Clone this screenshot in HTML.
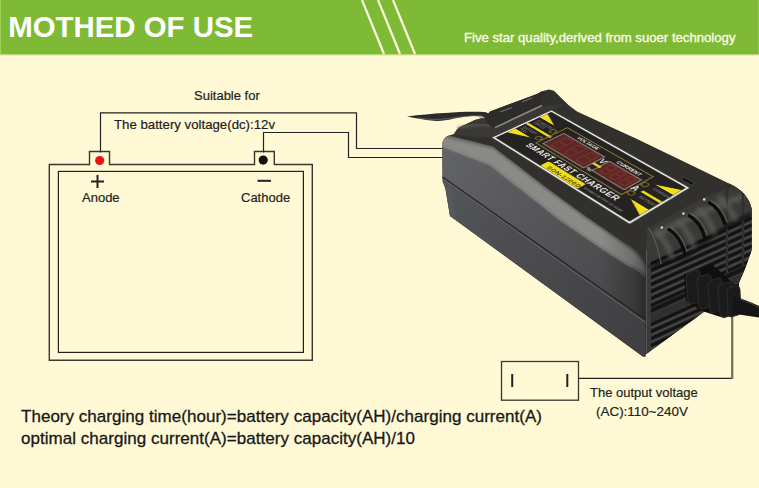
<!DOCTYPE html>
<html><head><meta charset="utf-8">
<style>
html,body{margin:0;padding:0;width:759px;height:488px;overflow:hidden;background:#fffad5;}
svg{position:absolute;left:0;top:0;display:block;}
text{font-family:"Liberation Sans",sans-serif;}
</style></head>
<body>
<svg width="759" height="488" viewBox="0 0 759 488">
<defs>
  <linearGradient id="gDark" gradientUnits="userSpaceOnUse" x1="600" y1="0" x2="648" y2="0">
    <stop offset="0" stop-color="#000" stop-opacity="0"/>
    <stop offset="0.7" stop-color="#000" stop-opacity="0.2"/>
    <stop offset="1" stop-color="#000" stop-opacity="0.45"/>
  </linearGradient>
  <filter id="blur1" x="-10%" y="-10%" width="120%" height="120%"><feGaussianBlur stdDeviation="1.4"/></filter>
  <filter id="blur2" x="-10%" y="-10%" width="120%" height="120%"><feGaussianBlur stdDeviation="2.2"/></filter>
  <linearGradient id="gUpper" gradientUnits="userSpaceOnUse" x1="450" y1="160" x2="640" y2="280">
    <stop offset="0" stop-color="#616265"/>
    <stop offset="1" stop-color="#48484a"/>
  </linearGradient>
  <linearGradient id="gBand" gradientUnits="userSpaceOnUse" x1="540" y1="186" x2="531.3" y2="199.3">
    <stop offset="0" stop-color="#4a4a48"/>
    <stop offset="0.35" stop-color="#868684"/>
    <stop offset="0.8" stop-color="#8a8a87"/>
    <stop offset="1" stop-color="#7a7a77"/>
  </linearGradient>
  <linearGradient id="gLower" gradientUnits="userSpaceOnUse" x1="450" y1="200" x2="645" y2="330">
    <stop offset="0" stop-color="#525458"/>
    <stop offset="1" stop-color="#403f41"/>
  </linearGradient>
</defs>
<!-- background -->
<rect x="0" y="0" width="759" height="488" fill="#fffad5"/>
<!-- header -->
<rect x="0" y="0" width="759" height="54" fill="#7fba36"/>
<rect x="0" y="54" width="759" height="1.3" fill="#b9d777"/>
<rect x="0" y="0" width="1" height="54" fill="#9fd05a"/>
<rect x="758" y="0" width="1" height="54" fill="#97c952"/>
<g stroke="#fbfbe0" stroke-width="2.2">
  <line x1="362" y1="0" x2="384" y2="54"/>
  <line x1="378" y1="0" x2="400" y2="54"/>
  <line x1="393" y1="0" x2="415" y2="54"/>
</g>
<text x="8.2" y="37.4" font-size="29.4" font-weight="bold" fill="#ffffff">MOTHED OF USE</text>
<text x="464" y="42.3" font-size="13.15" fill="#fafae6" stroke="#fafae6" stroke-width="0.35">Five star quality,derived from suoer technology</text>

<!-- battery -->
<g fill="none" stroke="#222" stroke-width="1.2">
  <path d="M49.3,360.3 V164.5 H89.5 V151.5 H109.5 V164.5 H254.5 V151.5 H274.3 V164.5 H312.3 V360.3 Z" stroke="#3a362e" stroke-width="1.4"/>
  <rect x="58.4" y="171.4" width="245" height="181"/>
  <path d="M100.5,152.5 V112.9 H356.5 V148.5 H445"/>
  <path d="M263.5,152.5 V132.5 H348.5 V157.5 H445"/>
  <path d="M578.5,378.3 H733"/>
  <path d="M732.2,379 V315" stroke="#6f6d50" stroke-width="2.2"/>
  <rect x="501.5" y="361.5" width="77" height="38.7" stroke="#3a362e" stroke-width="1.3"/>
</g>
<g stroke="#222" stroke-width="2">
  <line x1="512.2" y1="374" x2="512.2" y2="387"/>
  <line x1="567.3" y1="374" x2="567.3" y2="387"/>
  <line x1="91" y1="181.5" x2="104" y2="181.5"/>
  <line x1="97.5" y1="175" x2="97.5" y2="188"/>
  <line x1="257.5" y1="180.8" x2="271" y2="180.8"/>
</g>
<circle cx="99.7" cy="160.5" r="4.6" fill="#ee1111"/>
<circle cx="263.2" cy="160.1" r="4.6" fill="#111"/>
<g font-size="13" fill="#1e1e1e" stroke="#1e1e1e" stroke-width="0.2">
  <text x="194" y="100.1">Suitable for</text>
  <text x="114" y="129.3" textLength="161" lengthAdjust="spacingAndGlyphs">The battery voltage(dc):12v</text>
  <text x="82" y="202">Anode</text>
  <text x="241" y="202">Cathode</text>
  <text x="590" y="397">The output voltage</text>
  <text x="596" y="415.5" textLength="92" lengthAdjust="spacingAndGlyphs">(AC):110~240V</text>
</g>
<g font-size="17" fill="#181818" stroke="#181818" stroke-width="0.3">
  <text x="21" y="421.8" textLength="521" lengthAdjust="spacing">Theory charging time(hour)=battery capacity(AH)/charging current(A)</text>
  <text x="21" y="444" textLength="394" lengthAdjust="spacing">optimal charging current(A)=battery capacity(AH)/10</text>
</g>

<!-- charger -->
<g id="charger">
  <!-- cable left -->
  <path d="M407,116.4 C420,115 432,113.6 445,113 C460,112 475,111.3 486,112.3 Q490,114 491.5,119.5 C485,116.8 478,115.8 470,116.2 C458,117 448,120.8 437,120.9 C425,120.3 415,117.8 407,116.4 Z" fill="#2a2a28"/>
  <path d="M418,117.8 C428,119.6 438,120 448,118.6 C460,116.8 470,115.6 482,115.8" stroke="#8a8a84" stroke-width="0.8" fill="none" opacity="0.7"/>
  <!-- silhouette / top face -->
  <path d="M442.3,150 L442.3,144 Q443,137.5 449,135.5 L454,134 Q456,130 459,127.5 L475,120 L486,117 L490,111.6 L537,94 L542,91.3 L549,89.5 L554,90.7 L561,97.8 L569,105.5 L577,111.5 L637,139 L695,167 L729,183.5 Q748,192 751.7,209 L751.7,250 L746,266 L739,283 L738.5,294.6 L732.4,313 L724,316 L716,313 L707.8,308.9 L642.8,356.4 L450,216 L445.5,189 L442.5,181 Z" fill="#31302d"/>
  <!-- hump under bar -->
  <path d="M454,134 Q456,130 459,127.5 L475,120 L486,117 L496,128 L542,106 L565,104 L494,137.6 L470,137 Z" fill="#3a3836"/>
  <path d="M457,128.5 Q472,123.5 492,125" stroke="#66665f" stroke-width="1.6" fill="none" filter="url(#blur1)"/>
  <path d="M479,117.2 Q486,117.4 490,120" stroke="#b8b8ae" stroke-width="1.2" fill="none"/>
  <!-- bar -->
  <path d="M484,118 L490,111.6 L537,94 L542,91.3 L543,105 L495,128 Q488,126 484,118 Z" fill="#2e2c2a"/>
  <path d="M495,127.6 L542,105.5" stroke="#8c8c88" stroke-width="1.6"/>
  <path d="M500,112 L512,107.5 M522,102 L532,98" stroke="#6a6a66" stroke-width="1.2"/>
  <path d="M683,177 L694,182.5 L692.5,185.5 L681.5,180 Z" fill="#121212" stroke="#555" stroke-width="0.6"/>
  <!-- upper front face -->
  <path d="M442.3,144 Q443,137.5 449,135.5 L493,146.6 L545,186.5 L585,215.7 L625,243 Q642,252 646,266 L645.5,320 L442.5,177 Z" fill="url(#gUpper)"/>
  <!-- rounded edge highlight band -->
  <clipPath id="upclip"><path d="M442.3,144 Q443,137.5 449,135.5 L493,146.6 L545,186.5 L585,215.7 L625,243 Q642,252 646,266 L645.5,320 L442.5,177 Z"/></clipPath>
  <g clip-path="url(#upclip)">
  <path d="M440,136 L493,148.5 L545,188.5 L585,217.5 L625,245 Q641,254 646,268 L646,276 Q638,268 628,265 L604,249.5 L560,219.5 L490,164.5 L440,145.5 Z" fill="#8a8a87" filter="url(#blur1)"/>
  </g>
  <path d="M443,146 L490,164.5 L560,219.5 L604,249.5 L628,265 Q640,270 645,277" stroke="#9a9a96" stroke-width="0.9" fill="none" opacity="0.6"/>
  <!-- lower front face -->
  <path d="M442.5,177 L645.5,320 L645.5,356.4 L642.8,356.4 L450,216 L445.5,189 L442.5,177 Z" fill="url(#gLower)"/>
  <path d="M442.5,178.5 L445.5,189 L450,216 L456,220 L451,188 Z" fill="#5a5c62" opacity="0.6"/>
  <path d="M442.5,177 L645.5,320" stroke="#28282a" stroke-width="1.5"/>
  <path d="M444,179.5 L645.5,322.5" stroke="#66666a" stroke-width="1"/>
  <!-- darkening toward right end of front face -->
  <path d="M442.3,144 Q443,137.5 449,135.5 L493,146.6 L545,186.5 L585,215.7 L625,243 Q642,252 646,266 L645.5,320 L442.5,177 Z" fill="url(#gDark)"/>
  <!-- end face -->
  <path d="M646,229 L729,183.5 Q748,192 751.7,209 L751.7,250 L746,266 L739,283 L738.5,294.6 L732.4,313 L724,316 L716,313 L707.8,308.9 L642.8,356.4 L645.5,356.4 Z" fill="#302f2d"/>
  <clipPath id="endclip"><path d="M646,229 L729,183.5 Q748,192 751.7,209 L751.7,250 L746,266 L739,283 L738.5,294.6 L732.4,313 L724,316 L716,313 L707.8,308.9 L642.8,356.4 L645.5,356.4 Z"/></clipPath>
  <g clip-path="url(#endclip)">
    <!-- rib sheen -->
    <path d="M646,226 Q700,196 735,186 Q746,192 752,206 L752,214 L650,262 Z" fill="#3a3937"/>
    <path d="M655,236 Q700,210 745,196" stroke="#565552" stroke-width="6" fill="none" filter="url(#blur2)"/>
    <!-- vents -->
    <g stroke="#121212" stroke-width="2.8">
      <path d="M650,264 L752,218 M650,271 L752,225 M650,278 L752,232 M650,285 L752,239 M650,292 L752,246 M650,299 L752,253 M650,306 L752,260"/>
      <path d="M650,325 L752,279 M650,332 L752,286 M650,339 L752,293 M650,346 L752,300 M650,353 L752,307 M650,360 L752,314"/>
    </g>
    <g stroke="#4e4e4c" stroke-width="1.2">
      <path d="M650,267.5 L752,221.5 M650,274.5 L752,228.5 M650,281.5 L752,235.5 M650,288.5 L752,242.5 M650,295.5 L752,249.5 M650,302.5 L752,256.5"/>
      <path d="M650,328.5 L752,282.5 M650,335.5 L752,289.5 M650,342.5 L752,296.5 M650,349.5 L752,303.5 M650,356.5 L752,310.5"/>
    </g>
    <path d="M727,180 L727,320 M743,175 L743,310" stroke="#302f2d" stroke-width="2.5"/>
    <!-- end face seam -->
    <path d="M646,313 L752,265" stroke="#151515" stroke-width="4"/>
    <path d="M646,316.5 L752,268.5" stroke="#3c3c3b" stroke-width="1"/>
    <!-- corner rounding highlight -->
    <path d="M648.5,240 L648.5,356" stroke="#3a3a39" stroke-width="5"/>
    <path d="M646.5,250 L646.5,356" stroke="#56565a" stroke-width="1"/>
    <!-- rib bottoms shadow -->
    <path d="M650,266 Q668,262 686,256 Q696,250 706,241 Q716,233 727,227 Q738,220 752,214" stroke="#101010" stroke-width="3" fill="none" filter="url(#blur1)"/>
    <!-- rib highlights -->
    <g stroke="#5c5b57" stroke-width="5" fill="none" filter="url(#blur2)" opacity="0.9">
      <path d="M656,230 Q666,240 672,258"/>
      <path d="M678,221 Q688,230 694,247"/>
      <path d="M698,208 Q708,218 715,234"/>
      <path d="M718,196 Q728,205 736,220"/>
    </g>
    <!-- grooves -->
    <g stroke="#0c0c0c" stroke-width="3.2" fill="none">
      <path d="M667.7,228.9 Q680,235 684.8,254"/>
      <path d="M688,215 Q700,221 705,238"/>
      <path d="M708.3,202.1 Q720,208 725.2,225"/>
    </g>
    <g stroke="#62625e" stroke-width="1.2" fill="none" opacity="0.85">
      <path d="M647.5,226 Q657,240 661,264"/>
      <path d="M670,227 Q681,233 687,251"/>
      <path d="M690.5,213.5 Q702,219 707.5,235"/>
      <path d="M710.5,200.5 Q722,206 727.5,222"/>
    </g>
  </g>
  <g fill="#d0d0c8">
    <circle cx="661.8" cy="227.6" r="1.3"/><circle cx="683.4" cy="213.6" r="1.3"/><circle cx="704.2" cy="199.4" r="1.3"/>
  </g>
  <!-- strain relief -->
  <path d="M684,274 L712,264 L737,287 L741,313 L724,318 L702,311 L686,301 Z" fill="#0f0f0f"/>
  <g fill="#1b1b1b" stroke="#2e2e2d" stroke-width="0.9">
    <path d="M686,277 Q686,273 690,272 L697,270 Q700,270 700,274 L701,298 Q701,301 698,302 L691,304 Q688,304 688,301 Z"/>
    <path d="M697,281 Q697,277 701,276 L708,274 Q711,274 711,278 L712,303 Q712,306 709,307 L702,309 Q699,309 699,306 Z"/>
    <path d="M708,285 Q708,281 712,280 L719,278 Q722,278 722,282 L723,307 Q723,310 720,311 L713,313 Q710,313 710,310 Z"/>
    <path d="M718,289 Q718,285 722,284 L729,282 Q732,282 732,286 L733,311 Q733,314 730,315 L723,317 Q720,317 720,314 Z"/>
    <path d="M727,292 Q727,288 731,287 L737,286 Q740,286 740,290 L741,311 Q741,314 738,315 L731,317 Q728,317 728,314 Z"/>
  </g>
  <!-- cable right -->
  <path d="M734,296.5 C742,298.5 750,302 759,306 L759,317.5 C750,316 741,314.5 732.5,314 Z" fill="#151515"/>
  <path d="M740,299.5 C746,301.5 752,304 759,307.5" stroke="#3e3e3c" stroke-width="1" fill="none"/>
</g>
</svg>
<div id="panel" style="position:absolute;left:0;top:0;width:200px;height:80px;transform-origin:0 0;transform:matrix3d(0.26355989,0.26948713,0,-0.00060709731,-1.0219129,0.24712036,0,-0.00061140729,0,0,1,0,551.4,111.1,0,1);">
<svg width="200" height="80" viewBox="0 0 200 80" style="position:absolute;left:0;top:0;overflow:visible">
  <rect x="0" y="0" width="200" height="80" fill="#242321" stroke="#e6e6de" stroke-width="2.4"/>
  <!-- left indicators -->
  <path d="M1.5,7 L1.5,18 L25,18 Z" fill="#f2df1c"/>
  <path d="M1.5,52 L1.5,63 L26,52 Z" fill="#f2df1c"/>
  <rect x="1.5" y="34.5" width="39" height="3.4" fill="#f2df1c"/>
  <circle cx="33" cy="26.5" r="3.4" fill="#26221a" stroke="#8a7a3a" stroke-width="1.1"/>
  <circle cx="33" cy="46.3" r="3.4" fill="#26221a" stroke="#8a7a3a" stroke-width="1.1"/>
  <text x="5" y="26" font-size="4.5" fill="#8a8a86">CHARGING</text>
  <text x="5" y="31" font-size="4.5" fill="#8a8a86">STATUS</text>
  <text x="5" y="45" font-size="4.5" fill="#8a8a86">BATTERY</text>
  <text x="5" y="50" font-size="4.5" fill="#8a8a86">FULL</text>
  <!-- frame -->
  <rect x="38" y="10.5" width="126" height="44" fill="none" stroke="#9a8232" stroke-width="1.3"/>
  <rect x="44" y="21" width="62" height="29" fill="#5c2826" stroke="#b09690" stroke-width="1.2"/>
  <rect x="115" y="23" width="45" height="24" fill="#5c2826" stroke="#b09690" stroke-width="1.2"/>
  <path d="M52,24.5 h11 M52,35.0 h11 M52,45.5 h11 M52,24.5 v21 M63,24.5 v21" stroke="#74302c" stroke-width="1.8" fill="none"/><path d="M71,24.5 h11 M71,35.0 h11 M71,45.5 h11 M71,24.5 v21 M82,24.5 v21" stroke="#74302c" stroke-width="1.8" fill="none"/><path d="M90,24.5 h11 M90,35.0 h11 M90,45.5 h11 M90,24.5 v21 M101,24.5 v21" stroke="#74302c" stroke-width="1.8" fill="none"/><path d="M121.0,26 h8 M121.0,34.0 h8 M121.0,42 h8 M121.0,26 v16 M129.0,26 v16" stroke="#74302c" stroke-width="1.8" fill="none"/><path d="M134.5,26 h8 M134.5,34.0 h8 M134.5,42 h8 M134.5,26 v16 M142.5,26 v16" stroke="#74302c" stroke-width="1.8" fill="none"/><path d="M148.0,26 h8 M148.0,34.0 h8 M148.0,42 h8 M148.0,26 v16 M156.0,26 v16" stroke="#74302c" stroke-width="1.8" fill="none"/>
  <rect x="106" y="35.5" width="11" height="3.2" fill="#f2df1c"/>
  <text x="60" y="18.5" font-size="6.8" font-weight="bold" fill="#e0e0dc">VOLTAGE</text>
  <text x="121" y="20" font-size="6.8" font-weight="bold" fill="#e0e0dc">CURRENT</text>
  <text x="107.5" y="32" font-size="10" font-weight="bold" fill="#eee">V</text>
  <text x="108" y="50.5" font-size="8" font-weight="bold" fill="#ddd">%</text>
  <text x="162" y="41" font-size="10" font-weight="bold" fill="#eee">A</text>
  <circle cx="168" cy="26.2" r="3.4" fill="#26221a" stroke="#8a7a3a" stroke-width="1.1"/>
  <circle cx="168.4" cy="46" r="3.4" fill="#26221a" stroke="#8a7a3a" stroke-width="1.1"/>
  <!-- right indicators -->
  <path d="M175,19 L198.5,7 L198.5,19 Z" fill="#f2df1c"/>
  <path d="M175,53 L198.5,53 L198.5,65 Z" fill="#f2df1c"/>
  <rect x="173.5" y="34.5" width="25" height="3.4" fill="#f2df1c"/>
  <text x="178" y="27" font-size="4.5" fill="#8a8a86">CHARGING</text>
  <text x="178" y="46" font-size="4.5" fill="#8a8a86">BATTERY</text>
  <!-- bottom text -->
  <text x="34" y="65.8" font-size="10.5" font-weight="bold" fill="#eeeeea" letter-spacing="0.6">SMART FAST CHARGER</text>
  <rect x="73" y="67.5" width="55" height="11" rx="2" fill="#f2df1c"/>
  <text x="80" y="77" font-size="8" font-weight="bold" fill="#4a3a00" letter-spacing="0.5">SON-1206D</text>
  <text x="131" y="74" font-size="3.5" fill="#999">SUITABLE BATTERY 12V 100AH</text>
</svg>
</div>
</body></html>
